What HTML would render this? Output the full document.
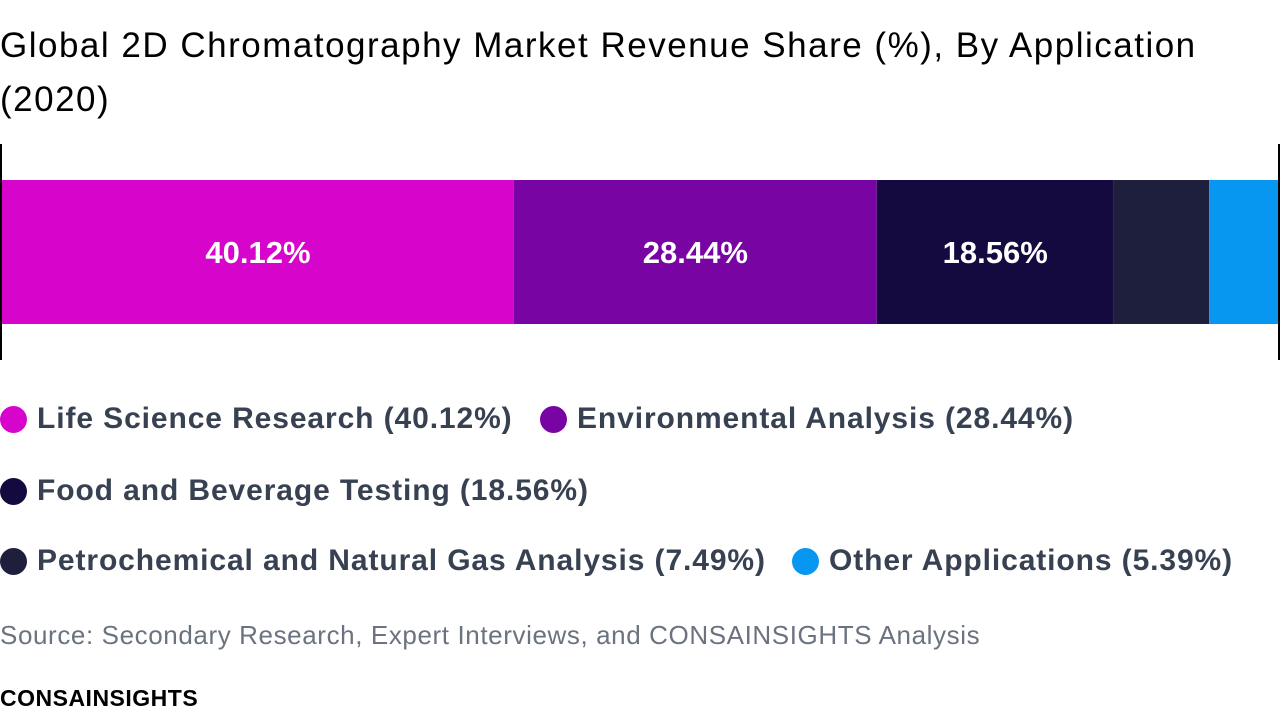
<!DOCTYPE html>
<html><head><meta charset="utf-8"><style>
body{margin:0;width:1280px;height:708px;background:#fff;font-family:"Liberation Sans",sans-serif;overflow:hidden;position:relative}
.title{position:absolute;left:0;top:19px;font-size:35px;line-height:54px;color:#000;width:1280px;letter-spacing:1.5px}
.leg{position:absolute;font-size:30px;font-weight:bold;color:#374151;white-space:nowrap;display:flex;align-items:center;letter-spacing:0.9px}
.dot{width:27px;height:27px;border-radius:50%;display:inline-block;margin-right:10px}
.src{position:absolute;left:0;top:620px;font-size:26px;color:#6b7280;letter-spacing:0.6px}
.brand{position:absolute;left:0;top:685px;font-size:23px;font-weight:bold;color:#000;letter-spacing:0.5px}
</style></head><body>
<div class="title">Global 2D Chromatography Market Revenue Share (%), By Application<br>(2020)</div>
<svg id="chart" width="1280" height="370" style="position:absolute;left:0;top:0"></svg>
<div class="leg" style="left:0;top:402px"><span class="dot" style="background:#d705cc"></span>Life Science Research (40.12%)</div>
<div class="leg" style="left:540px;top:402px"><span class="dot" style="background:#7804a4"></span>Environmental Analysis (28.44%)</div>
<div class="leg" style="left:0;top:474px"><span class="dot" style="background:#150a3f"></span>Food and Beverage Testing (18.56%)</div>
<div class="leg" style="left:0;top:544px"><span class="dot" style="background:#1e1f3d"></span>Petrochemical and Natural Gas Analysis (7.49%)</div>
<div class="leg" style="left:792px;top:544px"><span class="dot" style="background:#0797f1"></span>Other Applications (5.39%)</div>
<div class="src">Source: Secondary Research, Expert Interviews, and CONSAINSIGHTS Analysis</div>
<div class="brand">CONSAINSIGHTS</div>
<script>
const categories=["Life Science Research","Environmental Analysis","Food and Beverage Testing","Petrochemical and Natural Gas Analysis","Other Applications"];
const values=[40.12,28.44,18.56,7.49,5.39];
const colors=["#d705cc","#7804a4","#150a3f","#1e1f3d","#0797f1"];
const svg=document.getElementById('chart');
const NS='http://www.w3.org/2000/svg';
const x0=2,x1=1278,total=values.reduce((a,b)=>a+b,0);
const xs=v=>x0+(x1-x0)*v/total;
let acc=0;
values.forEach((v,i)=>{
  const r=document.createElementNS(NS,'rect');
  r.setAttribute('x',xs(acc));r.setAttribute('y',180);
  r.setAttribute('width',xs(acc+v)-xs(acc));r.setAttribute('height',144);
  r.setAttribute('fill',colors[i]);
  
  
  svg.appendChild(r);
  if(v>10){
    const t=document.createElementNS(NS,'text');
    t.setAttribute('x',(xs(acc)+xs(acc+v))/2);t.setAttribute('y',263);
    t.setAttribute('text-anchor','middle');t.setAttribute('fill','#fff');
    t.setAttribute('font-size','31');t.setAttribute('font-weight','bold');
    t.setAttribute('font-family','Liberation Sans, sans-serif');
    t.textContent=v.toFixed(2)+'%';
    
    
    svg.appendChild(t);
  }
  acc+=v;
});
[1,1279].forEach(x=>{
  const l=document.createElementNS(NS,'line');
  l.setAttribute('x1',x);l.setAttribute('x2',x);l.setAttribute('y1',144);l.setAttribute('y2',360);
  l.setAttribute('stroke','#000');l.setAttribute('stroke-width','2');
  
  
  svg.appendChild(l);
});
</script>
</body></html>
